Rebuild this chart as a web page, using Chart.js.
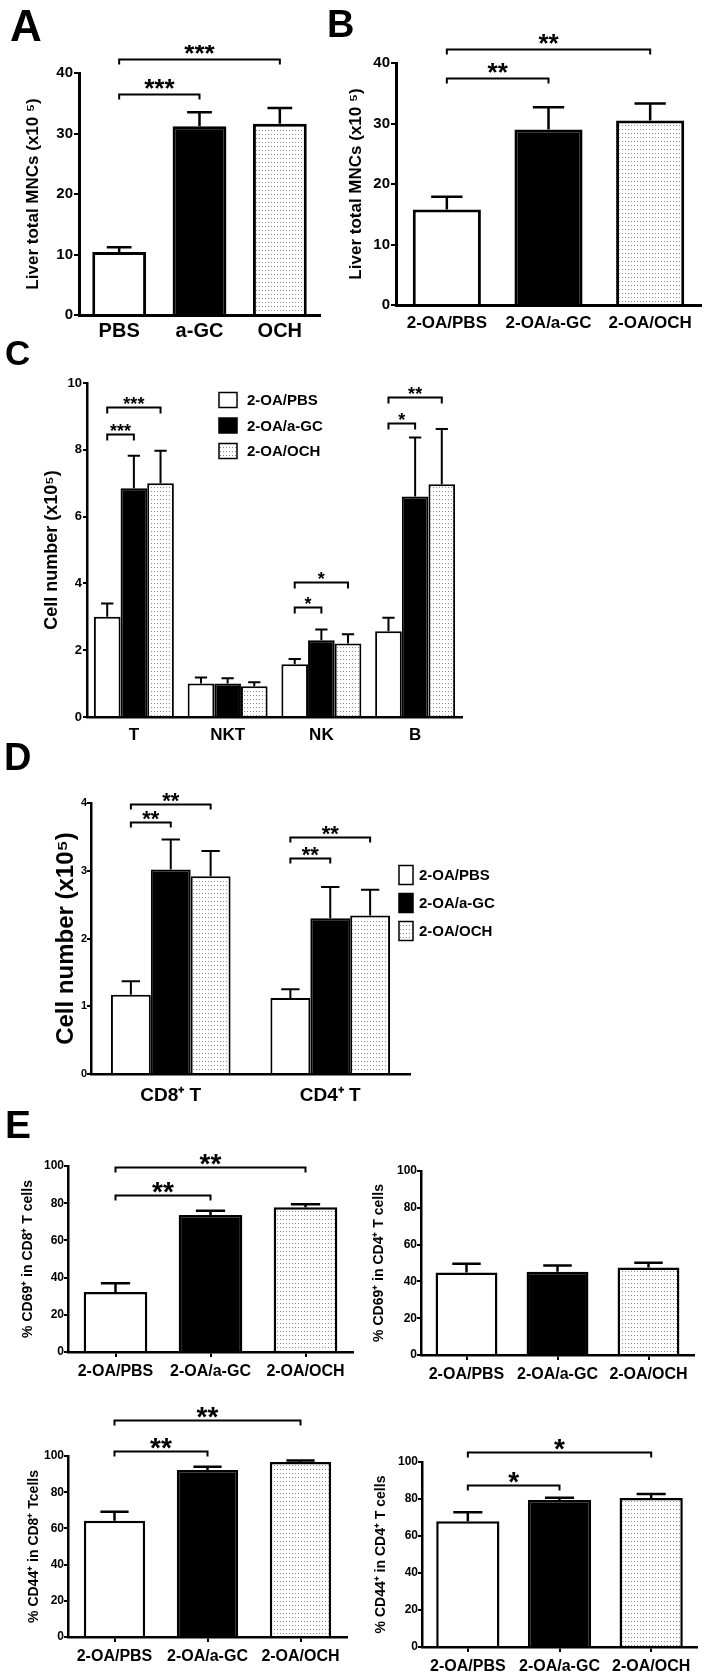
<!DOCTYPE html>
<html>
<head>
<meta charset="utf-8">
<script src="https://cdn.jsdelivr.net/npm/chart.js@4"></script>
<style>
  body { margin: 0; background: #fff; width: 708px; height: 1673px; position: relative; overflow: hidden; font-family: "Liberation Sans", Arial, sans-serif; }
  canvas { position: absolute; }
  .letter { position: absolute; font-weight: bold; line-height: 1; color: #000; z-index: 2; }
</style>
</head>
<body>
<div class="letter" style="left:10px;top:4px;font-size:44px">A</div>
<div class="letter" style="left:327px;top:5px;font-size:38px">B</div>
<div class="letter" style="left:5px;top:335px;font-size:35px">C</div>
<div class="letter" style="left:4px;top:738px;font-size:38px">D</div>
<div class="letter" style="left:5px;top:1105px;font-size:39px">E</div>
<script>
// ---------- data ----------
const GROUPS = ["2-OA/PBS", "2-OA/a-GC", "2-OA/OCH"];

// A
const A_LABELS = ["PBS", "a-GC", "OCH"];
const A_MEANS = [10.4, 31.2, 31.6];
const A_SEM = [0.8, 2.3, 2.6];
const A_BRACKETS = [[0, 1, 36.5, "***"], [0, 2, 42.3, "***"]];

// B
const B_MEANS = [15.8, 29.0, 30.5];
const B_SEM = [2.1, 3.7, 2.8];
const B_BRACKETS = [[0, 1, 37.5, "**"], [0, 2, 42.3, "**"]];

// C  (category, dataset a, dataset b, height, label)
const C_CATS = ["T", "NKT", "NK", "B"];
const C_PBS = [3.0, 1.0, 1.58, 2.57];
const C_PBS_SEM = [0.4, 0.18, 0.16, 0.4];
const C_AGC = [6.85, 1.0, 2.3, 6.6];
const C_AGC_SEM = [0.97, 0.16, 0.32, 1.77];
const C_OCH = [7.0, 0.92, 2.2, 6.97];
const C_OCH_SEM = [0.97, 0.12, 0.28, 1.65];
const C_BRACKETS = [[0, 0, 1, 8.47, "***"], [0, 0, 2, 9.28, "***"], [2, 0, 1, 3.3, "*"],
  [2, 0, 2, 4.03, "*"], [3, 0, 1, 8.8, "*"], [3, 0, 2, 9.57, "**"]];

// D
const D_CATS = ["CD8\u207A T", "CD4\u207A T"];
const D_PBS = [1.17, 1.12];
const D_PBS_SEM = [0.2, 0.13];
const D_AGC = [3.02, 2.3];
const D_AGC_SEM = [0.44, 0.46];
const D_OCH = [2.92, 2.34];
const D_OCH_SEM = [0.37, 0.38];
const D_BRACKETS = [[0, 0, 1, 3.72, "**"], [0, 0, 2, 3.99, "**"], [1, 0, 1, 3.19, "**"], [1, 0, 2, 3.5, "**"]];

// E
const E1_MEANS = [32.3, 73.6, 77.8];
const E1_SEM = [4.6, 2.4, 1.6];
const E1_BRACKETS = [[0, 1, 84.4, "**"], [0, 2, 99.2, "**"]];
const E2_MEANS = [44.8, 45.2, 47.5];
const E2_SEM = [4.8, 3.4, 2.7];
const E3_MEANS = [64.2, 92.3, 96.7];
const E3_SEM = [5.0, 1.8, 0.8];
const E3_BRACKETS = [[0, 1, 102.5, "**"], [0, 2, 120, "**"]];
const E4_MEANS = [68.0, 79.5, 80.5];
const E4_SEM = [4.8, 1.2, 2.2];
const E4_BRACKETS = [[0, 1, 87.6, "*"], [0, 2, 105.4, "*"]];

// ---------- helpers ----------
const FAMILY = "'Liberation Sans', Arial, sans-serif";

function dots() {
  const c = document.createElement("canvas");
  c.width = 3; c.height = 4;
  const g = c.getContext("2d");
  g.fillStyle = "#fff"; g.fillRect(0, 0, 3, 4);
  g.fillStyle = "#8c8c8c"; g.fillRect(1, 1, 1, 1);
  return g.createPattern(c, "repeat");
}
const DOTS = dots();
const FILLS = ["#ffffff", "#000000", DOTS];

const errorBars = {
  id: "errorBars",
  afterDatasetsDraw(chart, args, o) {
    const ctx = chart.ctx, y = chart.scales.y;
    chart.data.datasets.forEach((ds, di) => {
      if (!ds.sem) return;
      chart.getDatasetMeta(di).data.forEach((bar, i) => {
        const top = y.getPixelForValue(ds.data[i] + ds.sem[i]);
        const half = bar.width * 0.23;
        ctx.save();
        ctx.strokeStyle = "#000";
        ctx.lineWidth = o.width || 2;
        ctx.beginPath();
        ctx.moveTo(bar.x, bar.y);
        ctx.lineTo(bar.x, top);
        ctx.moveTo(bar.x - half, top);
        ctx.lineTo(bar.x + half, top);
        ctx.stroke();
        ctx.restore();
      });
    });
  }
};

const brackets = {
  id: "brackets",
  afterDatasetsDraw(chart, args, o) {
    if (!o.list) return;
    const ctx = chart.ctx, y = chart.scales.y;
    o.list.forEach(b => {
      let xa, xb, h, label;
      if (o.grouped) {
        xa = chart.getDatasetMeta(b[1]).data[b[0]].x;
        xb = chart.getDatasetMeta(b[2]).data[b[0]].x;
        h = b[3]; label = b[4];
      } else {
        xa = chart.getDatasetMeta(0).data[b[0]].x;
        xb = chart.getDatasetMeta(0).data[b[1]].x;
        h = b[2]; label = b[3];
      }
      const py = Math.round(y.getPixelForValue(h)) + 0.5;
      ctx.save();
      ctx.strokeStyle = "#000";
      ctx.lineWidth = 2;
      ctx.beginPath();
      ctx.moveTo(xa, py + o.tick);
      ctx.lineTo(xa, py);
      ctx.lineTo(xb, py);
      ctx.lineTo(xb, py + o.tick);
      ctx.stroke();
      ctx.fillStyle = "#000";
      ctx.font = "bold " + o.star + "px " + FAMILY;
      ctx.textAlign = "center";
      ctx.textBaseline = "alphabetic";
      ctx.fillText(label, (xa + xb) / 2, py - o.gap + 0.57 * o.star);
      ctx.restore();
    });
  }
};

const boxLegend = {
  id: "boxLegend",
  afterDraw(chart, args, o) {
    if (!o.x) return;
    const ctx = chart.ctx;
    const ox = chart.canvas.offsetLeft, oy = chart.canvas.offsetTop;
    chart.data.datasets.forEach((ds, i) => {
      const cy = o.y + i * o.step - oy;
      ctx.save();
      ctx.fillStyle = ds.backgroundColor;
      ctx.fillRect(o.x - ox, cy - o.bh / 2, o.bw, o.bh);
      ctx.strokeStyle = "#000";
      ctx.lineWidth = 1.5;
      ctx.strokeRect(o.x - ox, cy - o.bh / 2, o.bw, o.bh);
      ctx.fillStyle = "#000";
      ctx.font = "bold " + o.font + "px " + FAMILY;
      ctx.textAlign = "left";
      ctx.textBaseline = "middle";
      ctx.fillText(ds.label, o.tx - ox, cy + 1);
      ctx.restore();
    });
  }
};

function panel(p) {
  const [cx, cy, cw, ch] = p.box;
  const [x0, x1, yTop, yZero] = p.area;
  const cv = document.createElement("canvas");
  cv.width = cw; cv.height = ch;
  cv.style.left = cx + "px"; cv.style.top = cy + "px";
  document.body.appendChild(cv);
  const s = p.style;
  return new Chart(cv, {
    type: "bar",
    data: { labels: p.labels, datasets: p.datasets },
    options: {
      responsive: false,
      animation: false,
      events: [],
      layout: { padding: { left: 0, top: yTop - cy, right: cx + cw - x1, bottom: cy + ch - yZero - p.xh } },
      datasets: { bar: { categoryPercentage: p.cat, barPercentage: p.bar, borderSkipped: "start", clip: false } },
      scales: {
        x: {
          grid: { offset: false, drawOnChartArea: false, drawTicks: !!s.xTicks, tickLength: 5, color: "#000", lineWidth: 2 },
          border: { color: "#000", width: s.axis },
          ticks: { color: "#000", font: { family: FAMILY, weight: "bold", size: s.xFont }, padding: s.xPad, maxRotation: 0, autoSkip: false },
          afterFit: sc => { sc.height = p.xh; }
        },
        y: {
          min: 0, max: p.max,
          grid: { drawOnChartArea: false, tickLength: s.tl, color: "#000", lineWidth: 2 },
          border: { color: "#000", width: s.axis },
          ticks: { stepSize: p.step, color: "#000", font: { family: FAMILY, weight: "bold", size: s.tFont }, padding: s.tPad },
          title: { display: true, text: p.title, color: "#000", font: { family: FAMILY, weight: "bold", size: s.title }, padding: { top: p.titleX - cx - s.title * 0.6, bottom: 0 } },
          afterFit: sc => { sc.width = x0 - cx; }
        }
      },
      plugins: {
        legend: { display: false },
        tooltip: { enabled: false },
        errorBars: { width: s.err },
        brackets: { list: p.brackets, grouped: p.grouped, tick: s.bt, star: s.star, gap: s.gap },
        boxLegend: p.legend || {}
      }
    },
    plugins: [errorBars, brackets, boxLegend]
  });
}

function single(means, sem, bw) {
  return [{ data: means, sem: sem, backgroundColor: FILLS, borderColor: "#000", borderWidth: bw }];
}
function grouped(sets, bw) {
  return sets.map((s, i) => ({ label: GROUPS[i], data: s[0], sem: s[1], backgroundColor: FILLS[i], borderColor: "#000", borderWidth: bw }));
}

const STYLE_AB = { axis: 3, xFont: 20, xPad: 4, tFont: 15, tPad: 1, tl: 5, title: 17, err: 2.5, bt: 5, star: 26, gap: 12 };
const STYLE_B = Object.assign({}, STYLE_AB, { xFont: 17, xPad: 8 });
const STYLE_C = { axis: 2.5, xFont: 17, xPad: 8, tFont: 13, tPad: 1, tl: 4, title: 18, err: 2, bt: 6, star: 18, gap: 8 };
const STYLE_D = { axis: 2.5, xFont: 19, xPad: 10, tFont: 11, tPad: 0, tl: 4, title: 24, err: 2, bt: 5, star: 22, gap: 9 };
const STYLE_E = { axis: 2.5, xFont: 16, xPad: 5, xTicks: true, tFont: 12, tPad: 0, tl: 4, title: 14, err: 2.5, bt: 5, star: 28, gap: 10 };

panel({ box: [0, 45, 340, 305], area: [79, 320, 73, 315], xh: 30, labels: A_LABELS,
  datasets: single(A_MEANS, A_SEM, 3), cat: 1, bar: 0.67, max: 40, step: 10,
  title: "Liver total MNCs (x10 \u2075)", titleX: 33, style: STYLE_AB, brackets: A_BRACKETS });

panel({ box: [345, 20, 363, 320], area: [396, 701, 63, 305], xh: 30, labels: GROUPS,
  datasets: single(B_MEANS, B_SEM, 3), cat: 1, bar: 0.67, max: 40, step: 10,
  title: "Liver total MNCs (x10 \u2075)", titleX: 356, style: STYLE_B, brackets: B_BRACKETS });

panel({ box: [0, 370, 708, 380], area: [87, 462, 383, 717], xh: 30, labels: C_CATS,
  datasets: grouped([[C_PBS, C_PBS_SEM], [C_AGC, C_AGC_SEM], [C_OCH, C_OCH_SEM]], 2),
  cat: 0.853, bar: 1, max: 10, step: 2, grouped: true,
  title: "Cell number (x10\u2075)", titleX: 52, style: STYLE_C, brackets: C_BRACKETS,
  legend: { x: 219, y: 400, step: 25.5, bw: 18, bh: 15, tx: 247, font: 15 } });

panel({ box: [0, 780, 708, 335], area: [91, 410, 803, 1074], xh: 35, labels: D_CATS,
  datasets: grouped([[D_PBS, D_PBS_SEM], [D_AGC, D_AGC_SEM], [D_OCH, D_OCH_SEM]], 2),
  cat: 0.75, bar: 1, max: 4, step: 1, grouped: true,
  title: "Cell number (x10\u2075)", titleX: 66, style: STYLE_D, brackets: D_BRACKETS,
  legend: { x: 399, y: 875, step: 28, bw: 14, bh: 19, tx: 419, font: 15 } });

panel({ box: [0, 1150, 354, 240], area: [68, 353, 1166, 1352], xh: 30, labels: GROUPS,
  datasets: single(E1_MEANS, E1_SEM, 2.5), cat: 1, bar: 0.67, max: 100, step: 20,
  title: "% CD69\u207A in CD8\u207A T cells", titleX: 28, style: STYLE_E, brackets: E1_BRACKETS });

panel({ box: [354, 1150, 354, 240], area: [421, 694, 1171, 1355], xh: 30, labels: GROUPS,
  datasets: single(E2_MEANS, E2_SEM, 2.5), cat: 1, bar: 0.68, max: 100, step: 20,
  title: "% CD69\u207A in CD4\u207A T cells", titleX: 379, style: STYLE_E });

panel({ box: [0, 1400, 354, 273], area: [68, 347, 1456, 1637], xh: 30, labels: GROUPS,
  datasets: single(E3_MEANS, E3_SEM, 2.5), cat: 1, bar: 0.66, max: 100, step: 20,
  title: "% CD44\u207A in CD8\u207A Tcells", titleX: 34, style: STYLE_E, brackets: E3_BRACKETS });

panel({ box: [354, 1400, 354, 273], area: [422, 697, 1462, 1647], xh: 26, labels: GROUPS,
  datasets: single(E4_MEANS, E4_SEM, 2.5), cat: 1, bar: 0.69, max: 100, step: 20,
  title: "% CD44\u207A in CD4\u207A T cells", titleX: 381, style: STYLE_E, brackets: E4_BRACKETS });
</script>
</body>
</html>
